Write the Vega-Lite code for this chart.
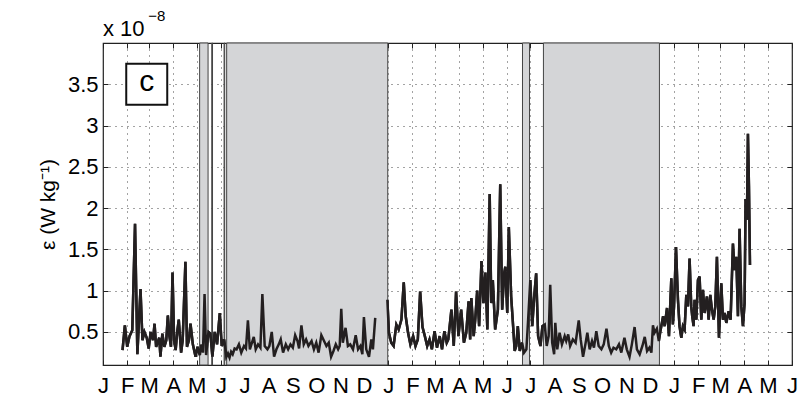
{
  "$schema": "https://vega.github.io/schema/vega-lite/v6.json",
  "width": 689,
  "height": 322,
  "autosize": "none",
  "padding": {"left": 103, "top": 43, "right": 18, "bottom": 31},
  "background": "white",
  "config": {
    "view": {"stroke": "#222", "strokeWidth": 1.2},
    "axis": {"labelFont": "Liberation Sans", "labelFontSize": 22, "labelColor": "#000", "titleFont": "Liberation Sans", "titleFontSize": 21, "titleFontWeight": "normal", "titleColor": "#000", "domainColor": "#222", "tickColor": "#222", "gridColor": "#333", "gridDash": [1, 5], "gridWidth": 1, "gridOpacity": 0.9}
  },
  "datasets": {
    "regions": [
      {"start": 123.7, "end": 134.5},
      {"start": 139.2, "end": 140.2},
      {"start": 155.0, "end": 155.8},
      {"start": 158.3, "end": 364.5},
      {"start": 537.0, "end": 546.0},
      {"start": 563.8, "end": 712.3}
    ],
    "panel": [{"d": 56, "v": 3.5, "label": "c"}],
    "scalebase": [{"d": 0, "v": 4.09, "label": "x 10"}],
    "exponent": [{"d": 69, "v": 4.33, "label": "−8"}],
    "series": [
      {"d":25,"v":0.28,"s":1},{"d":28,"v":0.58,"s":1},{"d":31,"v":0.32,"s":1},{"d":34,"v":0.45,"s":1},{"d":37.5,"v":0.52,"s":1},{"d":41,"v":1.81,"s":1},{"d":44,"v":0.23,"s":1},{"d":48,"v":1.02,"s":1},{"d":50.5,"v":0.4,"s":1},{"d":53,"v":0.5,"s":1},{"d":56,"v":0.43,"s":1},{"d":58.5,"v":0.3,"s":1},{"d":61,"v":0.5,"s":1},{"d":64,"v":0.4,"s":1},{"d":66,"v":0.6,"s":1},{"d":68,"v":0.32,"s":1},{"d":72,"v":0.43,"s":1},{"d":73.5,"v":0.2,"s":1},{"d":76,"v":0.48,"s":1},{"d":78.5,"v":0.32,"s":1},{"d":81,"v":0.4,"s":1},{"d":83,"v":0.7,"s":1},{"d":85,"v":0.45,"s":1},{"d":87,"v":0.32,"s":1},{"d":89,"v":1.22,"s":1},{"d":91,"v":0.4,"s":1},{"d":93,"v":0.28,"s":1},{"d":95,"v":0.5,"s":1},{"d":97,"v":0.65,"s":1},{"d":100,"v":0.25,"s":1},{"d":102,"v":0.4,"s":1},{"d":105.5,"v":1.35,"s":1},{"d":107.5,"v":0.32,"s":1},{"d":110,"v":0.4,"s":1},{"d":112,"v":0.6,"s":1},{"d":115,"v":0.35,"s":1},{"d":118.5,"v":0.2,"s":1},{"d":121,"v":0.32,"s":1},{"d":124,"v":0.22,"s":1},{"d":126,"v":0.35,"s":1},{"d":128,"v":0.25,"s":1},{"d":130,"v":0.96,"s":1},{"d":132,"v":0.22,"s":1},{"d":135,"v":0.5,"s":1},{"d":137.5,"v":0.48,"s":1},{"d":140,"v":0.2,"s":1},{"d":143,"v":0.5,"s":1},{"d":146,"v":0.35,"s":1},{"d":149.5,"v":0.73,"s":1},{"d":152,"v":0.33,"s":1},{"d":155,"v":0.41,"s":1},{"d":158,"v":0.2,"s":1},{"d":160,"v":0.24,"s":1},{"d":162,"v":0.19,"s":1},{"d":164,"v":0.26,"s":1},{"d":166,"v":0.23,"s":1},{"d":168.5,"v":0.3,"s":1},{"d":171,"v":0.29,"s":1},{"d":174,"v":0.35,"s":1},{"d":177,"v":0.25,"s":1},{"d":180.5,"v":0.33,"s":1},{"d":183,"v":0.3,"s":1},{"d":185.5,"v":0.64,"s":1},{"d":188,"v":0.29,"s":1},{"d":190,"v":0.35,"s":1},{"d":193,"v":0.44,"s":1},{"d":195.5,"v":0.29,"s":1},{"d":198.5,"v":0.35,"s":1},{"d":201.5,"v":0.31,"s":1},{"d":204,"v":0.96,"s":1},{"d":207,"v":0.33,"s":1},{"d":210.5,"v":0.29,"s":1},{"d":213,"v":0.33,"s":1},{"d":216,"v":0.5,"s":1},{"d":219,"v":0.2,"s":1},{"d":222,"v":0.29,"s":1},{"d":225,"v":0.35,"s":1},{"d":227.5,"v":0.41,"s":1},{"d":230.5,"v":0.25,"s":1},{"d":234,"v":0.35,"s":1},{"d":237,"v":0.29,"s":1},{"d":240,"v":0.35,"s":1},{"d":243,"v":0.31,"s":1},{"d":246,"v":0.46,"s":1},{"d":249,"v":0.39,"s":1},{"d":251,"v":0.3,"s":1},{"d":254,"v":0.58,"s":1},{"d":257,"v":0.35,"s":1},{"d":260,"v":0.41,"s":1},{"d":263,"v":0.33,"s":1},{"d":267,"v":0.39,"s":1},{"d":270,"v":0.29,"s":1},{"d":273,"v":0.37,"s":1},{"d":276,"v":0.25,"s":1},{"d":279.5,"v":0.46,"s":1},{"d":283,"v":0.39,"s":1},{"d":286,"v":0.33,"s":1},{"d":289,"v":0.37,"s":1},{"d":292,"v":0.2,"s":1},{"d":295,"v":0.27,"s":1},{"d":298,"v":0.35,"s":1},{"d":301,"v":0.29,"s":1},{"d":303,"v":0.33,"s":1},{"d":305,"v":0.78,"s":1},{"d":307,"v":0.37,"s":1},{"d":310.5,"v":0.55,"s":1},{"d":313.5,"v":0.33,"s":1},{"d":316.5,"v":0.35,"s":1},{"d":320,"v":0.29,"s":1},{"d":323.5,"v":0.46,"s":1},{"d":326.5,"v":0.29,"s":1},{"d":329.5,"v":0.33,"s":1},{"d":332,"v":0.23,"s":1},{"d":334,"v":0.68,"s":1},{"d":337,"v":0.29,"s":1},{"d":340.5,"v":0.2,"s":1},{"d":343.5,"v":0.41,"s":1},{"d":345.5,"v":0.29,"s":1},{"d":348.5,"v":0.67,"s":1},
      {"d":364,"v":0.89,"s":2},{"d":366,"v":0.49,"s":2},{"d":369,"v":0.37,"s":2},{"d":372,"v":0.33,"s":2},{"d":375.5,"v":0.59,"s":2},{"d":378.5,"v":0.53,"s":2},{"d":382,"v":0.65,"s":2},{"d":385,"v":1.1,"s":2},{"d":387.5,"v":0.69,"s":2},{"d":390.5,"v":0.49,"s":2},{"d":393.5,"v":0.35,"s":2},{"d":397,"v":0.45,"s":2},{"d":400,"v":0.33,"s":2},{"d":403,"v":0.41,"s":2},{"d":406,"v":0.99,"s":2},{"d":409,"v":0.56,"s":2},{"d":412,"v":0.45,"s":2},{"d":415,"v":0.33,"s":2},{"d":418,"v":0.41,"s":2},{"d":421,"v":0.29,"s":2},{"d":424.5,"v":0.51,"s":2},{"d":427.5,"v":0.31,"s":2},{"d":431,"v":0.45,"s":2},{"d":434,"v":0.29,"s":2},{"d":437,"v":0.51,"s":2},{"d":440,"v":0.37,"s":2},{"d":442,"v":0.41,"s":2},{"d":446,"v":0.77,"s":2},{"d":449,"v":0.33,"s":2},{"d":452,"v":0.99,"s":2},{"d":455,"v":0.45,"s":2},{"d":458.5,"v":0.77,"s":2},{"d":462,"v":0.37,"s":2},{"d":465,"v":0.49,"s":2},{"d":468,"v":0.87,"s":2},{"d":470,"v":0.41,"s":2},{"d":471.5,"v":0.91,"s":2},{"d":474.5,"v":0.45,"s":2},{"d":476.5,"v":0.65,"s":2},{"d":479,"v":1.0,"s":2},{"d":481.5,"v":0.57,"s":2},{"d":484.5,"v":1.36,"s":2},{"d":487,"v":0.85,"s":2},{"d":489.5,"v":1.22,"s":2},{"d":492,"v":0.53,"s":2},{"d":495,"v":2.17,"s":2},{"d":497,"v":0.85,"s":2},{"d":499,"v":1.13,"s":2},{"d":502,"v":0.53,"s":2},{"d":505.5,"v":0.77,"s":2},{"d":508.5,"v":2.29,"s":2},{"d":511,"v":0.77,"s":2},{"d":513.5,"v":1.21,"s":2},{"d":515,"v":1.29,"s":2},{"d":517.5,"v":0.73,"s":2},{"d":519.5,"v":1.77,"s":2},{"d":522.5,"v":0.93,"s":2},{"d":525,"v":0.57,"s":2},{"d":527,"v":0.27,"s":2},{"d":529,"v":0.33,"s":2},{"d":531,"v":0.57,"s":2},{"d":533.5,"v":0.27,"s":2},{"d":536.5,"v":0.37,"s":2},{"d":539,"v":0.25,"s":2},{"d":542,"v":0.29,"s":2},{"d":544,"v":0.61,"s":2},{"d":547,"v":1.13,"s":2},{"d":549.5,"v":0.57,"s":2},{"d":552,"v":0.93,"s":2},{"d":554.5,"v":1.21,"s":2},{"d":557,"v":0.45,"s":2},{"d":560,"v":0.33,"s":2},{"d":562.5,"v":0.57,"s":2},{"d":565.5,"v":0.59,"s":2},{"d":568,"v":0.33,"s":2},{"d":570.5,"v":0.45,"s":2},{"d":572.5,"v":1.07,"s":2},{"d":575,"v":0.37,"s":2},{"d":577.5,"v":0.23,"s":2},{"d":579,"v":0.61,"s":2},{"d":581.5,"v":0.29,"s":2},{"d":584.5,"v":0.49,"s":2},{"d":587.5,"v":0.35,"s":2},{"d":591,"v":0.45,"s":2},{"d":593,"v":0.39,"s":2},{"d":595.5,"v":0.47,"s":2},{"d":598,"v":0.33,"s":2},{"d":601.5,"v":0.41,"s":2},{"d":605,"v":0.37,"s":2},{"d":609,"v":0.64,"s":2},{"d":611.5,"v":0.41,"s":2},{"d":614.5,"v":0.2,"s":2},{"d":617.5,"v":0.35,"s":2},{"d":620,"v":0.49,"s":2},{"d":623,"v":0.29,"s":2},{"d":626,"v":0.39,"s":2},{"d":628.5,"v":0.31,"s":2},{"d":631.5,"v":0.51,"s":2},{"d":634.5,"v":0.33,"s":2},{"d":638,"v":0.29,"s":2},{"d":641,"v":0.35,"s":2},{"d":644.5,"v":0.54,"s":2},{"d":647.5,"v":0.33,"s":2},{"d":650.5,"v":0.25,"s":2},{"d":653.5,"v":0.31,"s":2},{"d":657,"v":0.29,"s":2},{"d":660.5,"v":0.35,"s":2},{"d":663.5,"v":0.25,"s":2},{"d":667.5,"v":0.43,"s":2},{"d":670.5,"v":0.29,"s":2},{"d":674,"v":0.2,"s":2},{"d":677,"v":0.35,"s":2},{"d":680.5,"v":0.56,"s":2},{"d":683.5,"v":0.29,"s":2},{"d":687,"v":0.23,"s":2},{"d":690.5,"v":0.33,"s":2},{"d":693.5,"v":0.44,"s":2},{"d":696.5,"v":0.27,"s":2},{"d":699.5,"v":0.31,"s":2},{"d":702,"v":0.25,"s":2},{"d":704,"v":0.58,"s":2},{"d":706,"v":0.49,"s":2},{"d":709,"v":0.54,"s":2},{"d":711.5,"v":0.39,"s":2},{"d":713.5,"v":0.51,"s":2},{"d":717,"v":0.69,"s":2},{"d":719,"v":0.57,"s":2},{"d":722,"v":0.79,"s":2},{"d":724.5,"v":0.45,"s":2},{"d":727.5,"v":1.15,"s":2},{"d":729.5,"v":0.59,"s":2},{"d":731,"v":0.81,"s":2},{"d":733.5,"v":1.53,"s":2},{"d":736,"v":0.89,"s":2},{"d":738,"v":0.57,"s":2},{"d":740.3,"v":0.43,"s":2},{"d":742.4,"v":0.57,"s":2},{"d":744.5,"v":0.53,"s":2},{"d":746.7,"v":0.95,"s":2},{"d":748.8,"v":0.81,"s":2},{"d":750.9,"v":1.39,"s":2},{"d":753,"v":0.81,"s":2},{"d":754.3,"v":0.69,"s":2},{"d":756,"v":0.57,"s":2},{"d":757.3,"v":0.89,"s":2},{"d":759.5,"v":0.65,"s":2},{"d":761.6,"v":1.13,"s":2},{"d":763.7,"v":1.17,"s":2},{"d":765.9,"v":0.65,"s":2},{"d":768,"v":1.01,"s":2},{"d":770.1,"v":0.73,"s":2},{"d":773.1,"v":0.93,"s":2},{"d":775.3,"v":0.65,"s":2},{"d":777.4,"v":0.95,"s":2},{"d":779.5,"v":0.77,"s":2},{"d":781.7,"v":0.65,"s":2},{"d":783.8,"v":0.81,"s":2},{"d":785.9,"v":1.41,"s":2},{"d":788.5,"v":0.43,"s":2},{"d":790.2,"v":0.81,"s":2},{"d":791.5,"v":1.09,"s":2},{"d":793.6,"v":0.65,"s":2},{"d":795.7,"v":0.73,"s":2},{"d":797.9,"v":0.61,"s":2},{"d":800.9,"v":0.75,"s":2},{"d":803.4,"v":0.65,"s":2},{"d":806.4,"v":1.57,"s":2},{"d":808.5,"v":1.25,"s":2},{"d":810.7,"v":1.41,"s":2},{"d":812.8,"v":0.69,"s":2},{"d":814.9,"v":1.75,"s":2},{"d":817.1,"v":0.81,"s":2},{"d":819.2,"v":0.57,"s":2},{"d":821.3,"v":0.85,"s":2},{"d":822.6,"v":2.11,"s":2},{"d":824.3,"v":1.86,"s":2},{"d":825.6,"v":2.9,"s":2},{"d":826.9,"v":2.26,"s":2},{"d":828.2,"v":1.31,"s":2}
    ]
  },
  "resolve": {"axis": {"x": "independent", "y": "independent"}},
  "layer": [
    {
      "data": {"name": "series"},
      "mark": {"type": "line", "color": "#231f20", "strokeWidth": 2.5},
      "encoding": {
        "x": {"field": "d", "type": "quantitative", "scale": {"domain": [0, 882], "nice": false, "zero": false},
          "axis": {"title": null, "values": [0,31,59,90,120,151,181,212,243,273,304,334,365,396,425,456,486,517,547,578,609,639,670,700,731,762,790,821,851,882],
            "labelExpr": "['J','F','M','A','M','J','J','A','S','O','N','D','J','F','M','A','M','J','J','A','S','O','N','D','J','F','M','A','M','J'][indexof([0,31,59,90,120,151,181,212,243,273,304,334,365,396,425,456,486,517,547,578,609,639,670,700,731,762,790,821,851,882], datum.value)]",
            "labelFlush": false, "labelOverlap": false, "labelBound": false, "grid": true, "tickSize": -5, "labelPadding": 15, "domain": false}},
        "y": {"field": "v", "type": "quantitative", "scale": {"domain": [0.1, 4.0], "nice": false, "zero": false},
          "axis": {"title": "ε (W kg⁻¹)", "values": [0.5, 1, 1.5, 2, 2.5, 3, 3.5], "format": "~g", "grid": true, "tickSize": -5, "labelPadding": 10, "titlePadding": 9, "domain": false}},
        "detail": {"field": "s", "type": "nominal"}
      }
    },
    {
      "data": {"name": "regions"},
      "mark": {"type": "rect", "fill": "#d4d5d7", "stroke": "#444", "strokeWidth": 1},
      "encoding": {
        "x": {"field": "start", "type": "quantitative", "scale": {"domain": [0, 882], "nice": false, "zero": false}, "axis": null},
        "x2": {"field": "end"}
      }
    },
    {
      "data": {"name": "series"},
      "mark": {"type": "line", "color": "#231f20", "strokeWidth": 2.5},
      "encoding": {
        "x": {"field": "d", "type": "quantitative", "scale": {"domain": [0, 882], "nice": false, "zero": false}, "axis": null},
        "y": {"field": "v", "type": "quantitative", "scale": {"domain": [0.1, 4.0], "nice": false, "zero": false}, "axis": null},
        "detail": {"field": "s", "type": "nominal"}
      }
    },
    {
      "data": {"name": "panel"},
      "mark": {"type": "point", "shape": "square", "size": 1681, "filled": true, "fill": "white", "stroke": "#111", "strokeWidth": 2, "opacity": 1},
      "encoding": {
        "x": {"field": "d", "type": "quantitative", "scale": {"domain": [0, 882], "nice": false, "zero": false},
          "axis": {"orient": "top", "title": null, "labels": false, "grid": false, "tickSize": -5, "domain": false, "values": [0,31,59,90,120,151,181,212,243,273,304,334,365,396,425,456,486,517,547,578,609,639,670,700,731,762,790,821,851,882]}},
        "y": {"field": "v", "type": "quantitative", "scale": {"domain": [0.1, 4.0], "nice": false, "zero": false},
          "axis": {"orient": "right", "title": null, "labels": false, "grid": false, "tickSize": -5, "domain": false, "values": [0.5, 1, 1.5, 2, 2.5, 3, 3.5]}}
      }
    },
    {
      "data": {"name": "panel"},
      "mark": {"type": "text", "font": "Liberation Sans", "fontSize": 30, "baseline": "middle", "align": "center", "dy": -2, "color": "#000"},
      "encoding": {
        "x": {"field": "d", "type": "quantitative", "scale": {"domain": [0, 882], "nice": false, "zero": false}, "axis": null},
        "y": {"field": "v", "type": "quantitative", "scale": {"domain": [0.1, 4.0], "nice": false, "zero": false}, "axis": null},
        "text": {"field": "label"}
      }
    },
    {
      "data": {"name": "scalebase"},
      "mark": {"type": "text", "font": "Liberation Sans", "fontSize": 22, "baseline": "alphabetic", "align": "left", "color": "#000", "clip": false},
      "encoding": {
        "x": {"field": "d", "type": "quantitative", "scale": {"domain": [0, 882], "nice": false, "zero": false}, "axis": null},
        "y": {"field": "v", "type": "quantitative", "scale": {"domain": [0.1, 4.0], "nice": false, "zero": false}, "axis": null},
        "text": {"field": "label"}
      }
    },
    {
      "data": {"name": "exponent"},
      "mark": {"type": "text", "font": "Liberation Sans", "fontSize": 15, "baseline": "middle", "align": "center", "color": "#000", "clip": false},
      "encoding": {
        "x": {"field": "d", "type": "quantitative", "scale": {"domain": [0, 882], "nice": false, "zero": false}, "axis": null},
        "y": {"field": "v", "type": "quantitative", "scale": {"domain": [0.1, 4.0], "nice": false, "zero": false}, "axis": null},
        "text": {"field": "label"}
      }
    }
  ]
}
